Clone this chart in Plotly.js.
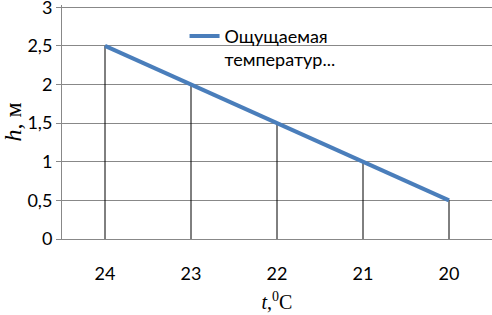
<!DOCTYPE html>
<html><head><meta charset="utf-8">
<script src="https://cdn.plot.ly/plotly-3.0.1.min.js"></script>
<style>html,body{margin:0;padding:0;background:#fff}#c{width:492px;height:315px}</style>
</head><body><div id="c"></div>
<script>
const categories = ["24", "23", "22", "21", "20"];
const heights = [2.5, 2, 1.5, 1, 0.5];
const seriesName = "Ощущаемая<br>температур...";

const dropX = [], dropY = [];
categories.forEach((c, i) => { dropX.push(c, c, null); dropY.push(0, heights[i], null); });

const traces = [
  {x: dropX, y: dropY, type: "scatter", mode: "lines", line: {color: "#000", width: 1}, showlegend: false, hoverinfo: "skip"},
  {x: categories, y: heights, type: "scatter", mode: "lines", name: seriesName, line: {color: "#4a7ebb", width: 4}}
];

const layout = {
  width: 492, height: 315,
  margin: {l: 62, r: 0, t: 5, b: 76},
  paper_bgcolor: "#fff", plot_bgcolor: "#fff",
  separators: ", ",
  font: {family: "Lato, sans-serif", size: 18, color: "#000"},
  showlegend: true,
  legend: {x: 0.285, y: 0.945, xanchor: "left", yanchor: "top", valign: "top", bgcolor: "rgba(0,0,0,0)", font: {size: 18}, tracegroupgap: 0},
  xaxis: {
    type: "category", range: [-0.5, 4.5], showgrid: false, zeroline: false,
    showline: true, linecolor: "#888", linewidth: 1, ticks: "", ticklabelstandoff: 18,
    title: {text: "<i>t</i>,<sup>0</sup>C", font: {family: "Liberation Serif, serif", size: 20}, standoff: 12}
  },
  yaxis: {
    range: [0, 3.03], tickvals: [0, 0.5, 1, 1.5, 2, 2.5, 3], showgrid: true, gridcolor: "#888", gridwidth: 1,
    zeroline: false, showline: true, linecolor: "#888", ticks: "outside", ticklen: 5, tickcolor: "#888",
    tickformat: ",~g", ticklabeloverflow: "allow",
    title: {text: "<i>h</i>, м", font: {family: "Liberation Serif, serif", size: 24}, standoff: 0}
  }
};
Plotly.newPlot("c", traces, layout, {staticPlot: true});
</script></body></html>
